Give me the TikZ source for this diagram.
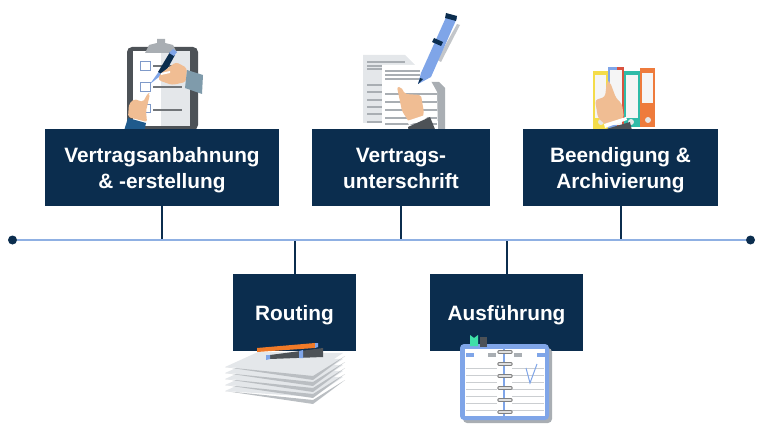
\documentclass[tikz,border=0pt]{standalone}
\usepackage{fontspec}
\usepackage{xcolor}
\setmainfont{Liberation Sans}
\usetikzlibrary{positioning}
\definecolor{navy}{HTML}{0B2D4E}
\definecolor{axisblue}{HTML}{8FB0E3}
\definecolor{penblue}{HTML}{7FA5E8}
\definecolor{skin}{HTML}{F0BD93}
\definecolor{sheet}{HTML}{E4E7EA}
\definecolor{linegray}{HTML}{A9AEB3}
\definecolor{darkgray}{HTML}{4D5257}
\definecolor{cuffblue}{HTML}{1F5A8C}
\definecolor{cuffgray}{HTML}{7F9BAB}
\definecolor{folderyellow}{HTML}{F4DC4A}
\definecolor{folderred}{HTML}{D9523F}
\definecolor{folderteal}{HTML}{2FBBA8}
\definecolor{folderorange}{HTML}{EE7B3C}
\definecolor{tabgreen}{HTML}{3FE0A8}
\definecolor{pencil}{HTML}{F07A28}
\newcommand{\phasetext}[1]{\vbox{\vskip6pt\hbox{\begin{tabular}{@{}c@{}}#1\end{tabular}}}}
\tikzset{
  phase/.style={fill=navy,text=white,inner sep=0pt,
    font=\bfseries\fontsize{20.8}{26}\selectfont},
  stem/.style={draw=navy,line width=2pt},
  axisline/.style={draw=axisblue,line width=2pt},
  enddot/.style={circle,fill=navy,inner sep=0pt,minimum size=9pt},
  rule/.style={draw=linegray,line width=1.3pt},
}
\begin{document}
\begin{tikzpicture}[x=1pt,y=-1pt]
\useasboundingbox (0,0) rectangle (768,433);
% clipboard
\fill[darkgray,rounded corners=5pt] (127,47) rectangle (198,130);
\fill[white] (133,51) rectangle (190,126);
\fill[sheet] (161,51) rectangle (190,126);
\fill[linegray] (145,53) -- (149,45) -- (157,43) -- (157,39) -- (165,39) -- (165,43) -- (173,45) -- (177,53) -- cycle;
\draw[draw=penblue!70!gray,line width=1pt] (140.500,62) rectangle (150,71);
\draw[draw=penblue!70!gray,line width=1pt] (140.500,83) rectangle (150,92);
\draw[draw=penblue!70!gray,line width=1pt] (140.500,105) rectangle (150,113);
\foreach \y in {66,87,110}
  \draw[draw=darkgray!80,line width=1.2pt] (153,\y) -- (182,\y);
\fill[penblue] (150,84) -- (160,70) -- (164,73) -- cycle;
\fill[navy] (158,72) -- (170,52) -- (175,55) -- (164,75) -- cycle;
\fill[penblue] (169,53) -- (173,49) -- (177,52) -- (174,56) -- cycle;
\fill[skin,rounded corners=3pt] (160,74) -- (176,62) -- (187,68) -- (186,82) -- (172,85) -- (158,80) -- cycle;
\fill[white] (161,73) -- (170,71) -- (170,73) -- (161,75) -- cycle;
\fill[cuffgray] (187,70) -- (203,75) -- (202,94) -- (185,88) -- cycle;
\fill[skin,rounded corners=2pt] (148,93) -- (150,94) -- (146,111) -- (147,122) -- (128,117) -- (129,104) -- (134,99) -- (143,102) -- cycle;
\fill[cuffblue] (128,118) -- (146,123) -- (143,137) -- (122,137) -- cycle;
% contract
\fill[sheet] (363,55) -- (405,55) -- (416,66) -- (416,123) -- (363,123) -- cycle;
\foreach \y in {62,66,69,85,92,100,107,114,122}
  \draw[rule] (367,\y) -- (382,\y);
\draw[rule] (382,62) -- (405,62);
\fill[linegray] (420,82) -- (439,82) -- (445,88) -- (445,131) -- (420,131) -- cycle;
\fill[white] (382,65) -- (422,65) -- (437,92) -- (438,131) -- (382,131) -- cycle;
\foreach \y in {71,75,79}
  \draw[rule] (385,\y) -- (420,\y);
\foreach \y in {94,102,110,118,124}
  \draw[rule] (385,\y) -- (437,\y);
\fill[linegray!70] (457,24) -- (460,25) -- (441,62) -- (437,60) -- cycle;
\fill[penblue] (418,84) -- (421,73) -- (447,15) -- (457,18) -- (431,77) -- cycle;
\fill[navy] (446,13) -- (457,16) -- (456,21) -- (445,18) -- cycle;
\fill[navy] (434,38) -- (443,42) -- (441,46) -- (432,42) -- cycle;
\fill[navy] (418,84) -- (420,78) -- (423,79) -- cycle;
\fill[skin,rounded corners=2pt] (397,87) -- (401,87) -- (405,94) -- (421,95) -- (424,113) -- (422,119) -- (409,122) -- (402,111) -- cycle;
\fill[white] (407,121) -- (425,115) -- (427,118) -- (409,125) -- cycle;
\fill[darkgray] (408,127) -- (430,117) -- (439,139) -- (410,139) -- cycle;
% folders
\fill[folderyellow] (593,71) rectangle (608,130);
\fill[white!92!gray] (595,75) rectangle (606,118);
\fill[penblue] (608,67) rectangle (617,130);
\fill[folderred] (617,67) rectangle (624,130);
\fill[white!92!gray] (610,70) rectangle (622,125);
\fill[folderteal] (624,71) rectangle (640,127);
\fill[white!92!gray] (626,75) rectangle (638,118);
\fill[folderorange] (640,68) rectangle (655,127);
\fill[white!92!gray] (642,73) rectangle (653,103);
\foreach \x/\y in {601/122,631/122,648/120}
  \fill[white!80!gray] (\x,\y) circle (3pt);
\fill[skin,rounded corners=3pt] (607,81) -- (610,82) -- (616,98) -- (622,104) -- (624,118) -- (606,125) -- (598,118) -- (595,100) -- (605,97) -- cycle;
\fill[white] (604,124) -- (626,117) -- (627,120) -- (605,128) -- cycle;
\fill[darkgray] (603,130) -- (630,122) -- (634,139) -- (607,139) -- cycle;
% boxes
\node[phase,minimum width=234pt,minimum height=77pt] (anbahnung) at (162,167.500) {\phasetext{Vertragsanbahnung\\\& -erstellung}};
\node[phase,minimum width=178pt,minimum height=77pt] (unterschrift) at (401,167.500) {\phasetext{Vertrags-\\unterschrift}};
\node[phase,minimum width=195pt,minimum height=77pt] (archiv) at (620.500,167.500) {\phasetext{Beendigung \&\\Archivierung}};
\node[phase,minimum width=123pt,minimum height=77pt] (routing) at (294.500,312.500) {\phasetext{Routing}};
\node[phase,minimum width=153pt,minimum height=77pt] (ausfuehrung) at (506.500,312.500) {\phasetext{Ausführung}};
\node[enddot] (links) at (12.500,240) {};
\node[enddot] (rechts) at (750.500,240) {};
\draw[stem] (anbahnung.south) -- (anbahnung.south |- links);
\draw[stem] (unterschrift.south) -- (unterschrift.south |- links);
\draw[stem] (archiv.south) -- (archiv.south |- links);
\draw[stem] (routing.north) -- (routing.north |- links);
\draw[stem] (ausfuehrung.north) -- (ausfuehrung.north |- links);
\draw[axisline] (links) -- (rechts);
% paper stack
\foreach \y in {24,18,12,6,0}{
  \fill[linegray!80] (225,\y+367) -- (313,\y+376) -- (345,\y+356) -- (313,\y+380) -- cycle;
  \fill[sheet] (225,\y+367) -- (258,\y+352) -- (343,\y+353) -- (313,\y+373) -- cycle;
}
\fill[pencil] (257,348) -- (315,343) -- (315,348) -- (257,352) -- cycle;
\fill[penblue] (315,343) -- (318,343) -- (318,347) -- (315,348) -- cycle;
\fill[darkgray] (270,355) -- (323,348) -- (323,357) -- (270,359) -- cycle;
\fill[penblue] (266,355) -- (270,355) -- (270,359) -- (266,360) -- cycle;
\fill[penblue] (299,351) -- (303,350) -- (303,358) -- (299,358) -- cycle;
% notebook
\fill[linegray,rounded corners=4pt] (463,348) rectangle (552,423);
\fill[penblue,rounded corners=4pt] (460,344) rectangle (549,420);
\fill[white] (465,349) rectangle (503,416);
\fill[white] (505,349) rectangle (545,416);
\fill[tabgreen] (470,346) -- (470,335) -- (474,338) -- (478,335) -- (478,346) -- cycle;
\fill[darkgray] (480,347) -- (480,337) -- (487,337) -- (487,347) -- cycle;
\foreach \x/\c in {466/penblue,488/linegray,514/linegray,537/penblue}
  \fill[\c] (\x,353) rectangle (\x+8,357);
\foreach \y in {368,375,382,389,396,403,410}{
  \draw[draw=linegray!60,line width=.6pt] (466,\y) -- (497,\y);
  \draw[draw=linegray!60,line width=.6pt] (512,\y) -- (544,\y);
}
\foreach \y in {352,364,376,388,400,412}{
  \draw[draw=gray,line width=3.4pt,line cap=round] (499,\y) -- (511,\y);
  \draw[draw=white!75!gray,line width=1.2pt,line cap=round] (499,\y) -- (511,\y);
}
\draw[draw=penblue,line width=1pt] (526,368) -- (530,383) -- (537,364);
\end{tikzpicture}
\end{document}
